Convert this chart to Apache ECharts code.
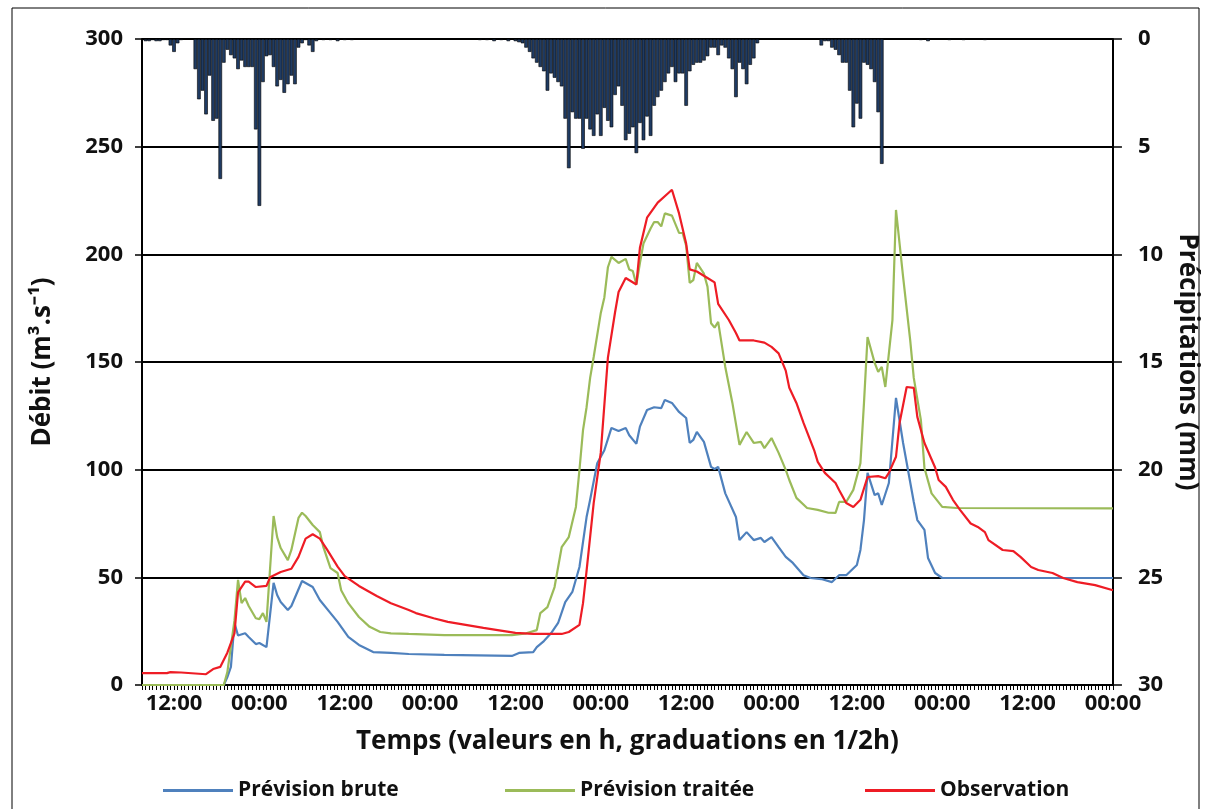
<!doctype html>
<html lang="fr">
<head>
<meta charset="UTF-8">
<script src="https://cdn.jsdelivr.net/npm/echarts@6/dist/echarts.min.js"></script>
<title>Débit et précipitations</title>
<style>
  html, body { margin: 0; padding: 0; background: #fff; }
  #chart { width: 1208px; height: 809px; }
</style>
</head>
<body>
<div id="chart"></div>
<script>
// temps en heures depuis le jour 1 à 00:00, pas de 1/2h
var brute = [[7.5,0],[19,0],[19.5,3.7],[20,8.4],[20.5,28.8],[21,23],[22,24],[22.5,22.3],[23.5,19],[24,19.5],[25,17.6],
  [26,47.4],[26.5,41.8],[27,38.5],[28,34.8],[28.5,36.7],[30,48.3],[30.5,47.4],[31.5,45.5],[32.5,39.5],[34,33.4],[35,29.3],
  [36.5,22.3],[38,18.6],[40,15.3],[42.5,14.9],[45,14.4],[50,14],[59.5,13.5],[60.5,14.9],[62.5,15.3],[63,17.6],[64,20.4],
  [65,24],[66,28.8],[67,38.5],[68,43.2],[69,54.8],[70,78],[70.5,86],[71.5,103],[72.5,109],[73.5,119.4],[74.5,118],[75.5,119.4],
  [76,116],[77,112],[77.5,120],[78.5,127.7],[79.5,129],[80.5,128.6],[81,132.4],[82,131],[83,126.8],[84,124],[84.5,112.4],
  [85,113.8],[85.5,117.5],[86.5,112.9],[87.5,101.3],[88,100.3],[88.5,101.3],[89.5,89],[91,78],[91.5,67.3],[92.5,71],
  [93.5,67.3],[94.5,68.3],[95,66.4],[96,68.7],[97,64],[98,59.5],[99,56.7],[100.5,51],[101.5,49.7],[103,49.2],[104.5,47.8],
  [105.5,51],[106.5,51],[108,55.7],[108.5,62.7],[109,76.6],[109.5,98.5],[110.5,88.2],[111,89],[111.5,83.6],[112.5,93.8],
  [113.5,133.3],[114.5,112.4],[116,85],[116.5,76.6],[117.5,72],[118,59],[119,52],[120,49.7],[144,49.7]];

var traitee = [[7.5,0],[19,0],[19.5,6],[20.5,30],[21,48.8],[21.5,38],[22,40.4],[22.5,36.7],[23.5,31],[24,30.6],[24.5,33.4],
  [25,29.3],[26,78.5],[26.5,68.7],[27,63.6],[28,58],[28.5,62.7],[29.5,77.6],[30,80],[30.5,78.5],[31.5,74.3],[32.5,71],
  [33,64],[34,54.3],[35,52],[35.5,44],[36.5,38],[38,31.6],[39.5,27],[41,24.6],[42.5,24],[45,23.7],[50,23.2],[59.5,23.2],
  [61.5,24],[63,25.5],[63.5,33.4],[64.5,36.2],[65.5,45.5],[66.5,64],[67.5,68.7],[68.5,82.7],[69,99.9],[69.5,118.4],[70,129],
  [70.5,142.6],[71,152.3],[72,172.8],[72.5,180],[73,194],[73.5,198.8],[74.5,196],[75.5,197.9],[76,193],[76.5,192.3],[77,186],
  [77.5,196],[78,205],[79,212],[79.5,215],[80,215],[80.5,213],[81,219],[82,218],[83,210],[83.5,209.9],[84,204],[84.5,186.7],
  [85,188],[85.5,196],[86.5,191],[87,185],[87.5,168],[88,166],[88.5,168.6],[89.5,147.7],[90.5,131],[91.5,111.5],[92.5,117.5],
  [93.5,112.4],[94.5,112.9],[95,110],[96,114.7],[97,107.8],[98,99.9],[98.5,95.2],[99.5,86.9],[101,82.2],[102.5,81.3],[104,80],
  [105,79.9],[105.5,85],[106.5,85],[107.5,90.6],[108.5,103],[109,131],[109.5,161.6],[110.5,149.6],[111,145.4],[111.5,147.7],
  [112,138.4],[112.5,154],[113,169.5],[113.5,220.6],[114.5,189.5],[115.5,160],[116,142.6],[117,123],[117.5,100.8],[118.5,89],
  [120,82.7],[122,82.2],[144,82]];

var observation = [[7.5,5.5],[11,5.5],[11.5,6],[13,5.8],[16.5,5],[17.5,7.4],[18.5,8.4],[19.5,15],[20.5,24],[21,43],[22,48],
  [22.5,48],[23.5,45.5],[25,46],[25.5,50],[27,52.5],[28.5,54],[29.5,59.5],[30.5,68],[31.5,70],[32.5,68],[33.5,63],[35,55],
  [36,50.6],[38,46],[40.5,41.3],[42.5,38],[45,34.8],[46,33.4],[48.5,31],[50.5,29.3],[53,27.9],[55.5,26.5],[57.5,25.5],
  [60,24.2],[62.5,23.7],[66.5,23.7],[67.5,24.6],[69,27.9],[69.5,38],[70,53],[71,84.5],[72,108],[73,152],[74,173],[74.5,182.5],
  [75.5,189],[77,186],[77.5,203],[78.5,217],[80,224],[81.5,228.5],[82,230],[83,219],[84,205],[84.5,193],[85.5,192],[87,189],
  [88,187],[88.5,177],[90,169.5],[91,163.5],[91.5,160],[93.5,160],[95,159],[96,157],[97,154],[98,146],[98.5,138],[99.5,131],
  [100.5,121.7],[102,109],[102.5,103.6],[103.5,98.5],[105,93.8],[105.5,90.6],[106.5,84.5],[107.5,82.7],[108.5,86],[109.5,96.6],
  [111,97],[112,96],[112.5,98.5],[113.5,106],[114,121.7],[115,138.4],[116,138],[116.5,124.5],[117.5,112.4],[119,101],
  [119.5,95.2],[120.5,92],[121.5,86],[122.5,81.3],[124,75],[125,73.4],[126,71],[126.5,67.3],[128.5,62.7],[130,62.2],[131,59.5],
  [132.5,54.8],[133.5,53.4],[135.5,52],[137,49.7],[139,47.8],[141.5,46.4],[144,44]];

var precipitations = [[8,0.1],[8.5,0.1],[9,0.05],[9.5,0.1],[10,0.1],[10.5,0.05],[11,0.05],[11.5,0.3],[12,0.6],[12.5,0.2],[13,0.05],
  [15,1.4],[15.5,2.8],[16,2.4],[16.5,3.5],[17,1.7],[17.5,3.8],[18,3.7],[18.5,6.5],[19,1.1],[19.5,0.5],[20,0.75],[20.5,0.9],
  [21,1.4],[21.5,1.0],[22,1.3],[22.5,1.3],[23,1.3],[23.5,4.2],[24,7.75],[24.5,2.0],[25,0.8],[25.5,0.75],[26,1.3],[26.5,2.2],
  [27,1.9],[27.5,2.5],[28,2.1],[28.5,1.7],[29,2.1],[29.5,0.4],[30,0.2],[30.5,0.05],[31,0.3],[31.5,0.6],[32,0.1],[33,0.05],
  [34,0.05],[35,0.1],[36,0.05],[37,0.05],[55,0.05],[56,0.05],[57,0.1],[58,0.05],[59,0.1],[60,0.1],[60.5,0.15],
  [61,0.2],[61.5,0.4],[62,0.6],[62.5,0.9],[63,1.1],[63.5,1.3],[64,1.5],[64.5,2.4],[65,1.6],[65.5,1.8],[66,2.0],[66.5,2.2],
  [67,3.7],[67.5,6.0],[68,3.4],[68.5,3.7],[69,3.7],[69.5,5.1],[70,3.7],[70.5,4.2],[71,4.5],[71.5,3.5],[72,4.5],[72.5,3.2],
  [73,3.8],[73.5,4.1],[74,2.6],[74.5,2.2],[75,3.1],[75.5,4.7],[76,4.4],[76.5,4.1],[77,5.3],[77.5,3.9],[78,4.7],[78.5,3.6],
  [79,4.5],[79.5,3.1],[80,2.7],[80.5,2.4],[81,2.0],[81.5,1.6],[82,1.3],[82.5,2.0],[83,1.6],[83.5,1.6],[84,3.1],[84.5,1.5],
  [85,1.2],[85.5,1.1],[86,1.1],[86.5,1.0],[87,0.8],[87.5,0.4],[88,0.4],[88.5,0.75],[89,0.3],[89.5,0.4],[90,0.9],[90.5,1.4],
  [91,2.7],[91.5,1.1],[92,1.4],[92.5,2.1],[93,1.2],[93.5,0.9],[94,0.2],
  [103,0.3],[103.5,0.1],[104,0.1],[104.5,0.4],[105,0.5],[105.5,0.75],[106,1.1],[106.5,1.1],[107,2.4],[107.5,4.1],[108,3.0],
  [108.5,3.7],[109,1.1],[109.5,1.2],[110,1.4],[110.5,2.0],[111,3.4],[111.5,5.8],
  [117,0.05],[118,0.1],[121,0.05],[123,0.05],[126,0.05]];

var police = 'Open Sans';
var noir = '#111';

var chart = echarts.init(document.getElementById('chart'));

function legende(nom, gauche) {
    return {
        data: [nom],
        left: gauche,
        top: 775,
        icon: 'rect',
        itemWidth: 70,
        itemHeight: 3,
        textStyle: {fontFamily: police, fontWeight: 'bold', fontSize: 21, color: noir},
        selectedMode: false
    };
}

var option = {
    animation: false,
    backgroundColor: '#fff',
    grid: {left: 142, right: 92, top: 39, bottom: 124},
    graphic: [{
        type: 'rect',
        shape: {x: 12, y: 8, width: 1187, height: 820},
        style: {fill: 'none', stroke: '#000', lineWidth: 1}
    }],
    legend: [
        legende('Prévision brute', 158),
        legende('Prévision traitée', 500),
        legende('Observation', 860)
    ],
    xAxis: {
        type: 'value',
        min: 7.5,
        max: 144,
        interval: 0.5,
        name: 'Temps (valeurs en h, graduations en 1/2h)',
        nameLocation: 'middle',
        nameGap: 44,
        nameTextStyle: {fontFamily: police, fontWeight: 'bold', fontSize: 26, color: noir},
        axisLine: {onZero: false, lineStyle: {color: '#000', width: 2}},
        axisTick: {length: 5, lineStyle: {color: '#000', width: 1}},
        axisLabel: {
            fontFamily: police, fontWeight: 'bold', fontSize: 22, color: noir, margin: 8,
            formatter: function (v) {
                var h = v % 24;
                if (h === 12) return '12:00';
                if (h === 0) return '00:00';
                return '';
            }
        },
        splitLine: {show: false}
    },
    yAxis: [{
        type: 'value',
        min: 0,
        max: 300,
        interval: 50,
        name: 'Débit (m³.s⁻¹)',
        nameLocation: 'middle',
        nameGap: 86,
        nameTextStyle: {fontFamily: police, fontWeight: 'bold', fontSize: 26, color: noir},
        axisLine: {show: true, lineStyle: {color: '#000', width: 2}},
        axisTick: {show: true, length: 7, lineStyle: {color: '#000', width: 1.5}},
        axisLabel: {fontFamily: police, fontWeight: 'bold', fontSize: 22, color: noir, margin: 19},
        splitLine: {show: true, lineStyle: {color: '#000', width: 2}}
    }, {
        type: 'value',
        position: 'right',
        inverse: true,
        min: 0,
        max: 30,
        interval: 5,
        name: 'Précipitations (mm)',
        nameLocation: 'middle',
        nameGap: 58,
        nameRotate: -90,
        nameTextStyle: {fontFamily: police, fontWeight: 'bold', fontSize: 26, color: noir},
        axisLine: {show: true, lineStyle: {color: '#000', width: 2}},
        axisTick: {show: true, length: 9, lineStyle: {color: '#000', width: 1.5}},
        axisLabel: {fontFamily: police, fontWeight: 'bold', fontSize: 22, color: noir, margin: 25},
        splitLine: {show: false}
    }],
    series: [{
        name: 'Précipitations',
        type: 'bar',
        yAxisIndex: 1,
        barWidth: 3.6,
        data: precipitations,
        itemStyle: {color: '#1f3b63', borderColor: '#000', borderWidth: 0.6},
        z: 1
    }, {
        name: 'Prévision brute',
        type: 'line',
        data: brute,
        showSymbol: false,
        lineStyle: {color: '#4f81bd', width: 2.2},
        itemStyle: {color: '#4f81bd'},
        z: 3
    }, {
        name: 'Prévision traitée',
        type: 'line',
        data: traitee,
        showSymbol: false,
        lineStyle: {color: '#9bbb59', width: 2.2},
        itemStyle: {color: '#9bbb59'},
        z: 3
    }, {
        name: 'Observation',
        type: 'line',
        data: observation,
        showSymbol: false,
        lineStyle: {color: '#ee1c25', width: 2.2},
        itemStyle: {color: '#ee1c25'},
        z: 4
    }]
};

chart.setOption(option);
</script>
</body>
</html>
